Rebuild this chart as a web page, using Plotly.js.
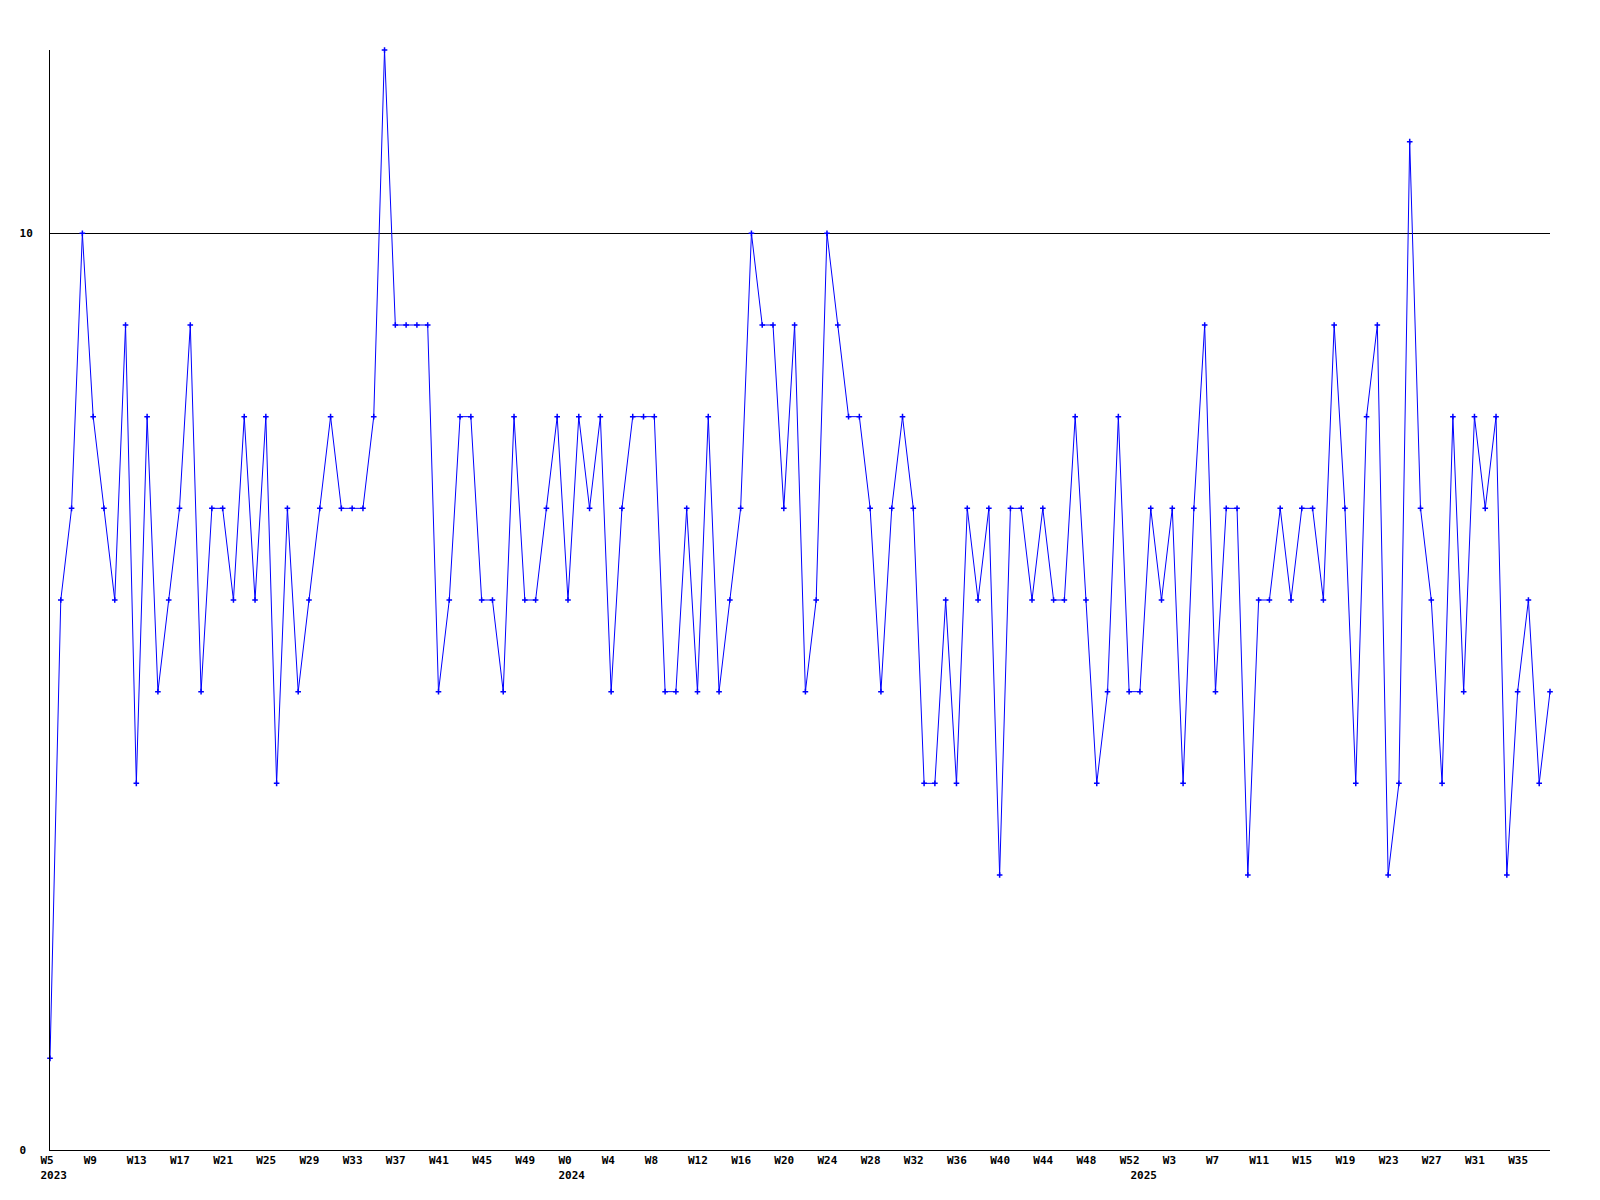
<!DOCTYPE html>
<html>
<head>
<meta charset="utf-8">
<script src="https://cdn.plot.ly/plotly-3.0.1.min.js"></script>
<style>html,body{margin:0;padding:0;background:#fff;}#chart{width:1600px;height:1200px;}</style>
</head>
<body>
<div id="chart"></div>
<script>
// Weekly values, 2023 W5 .. 2025 W38
const values = [
  1, 6, 7, 10, 8, 7, 6, 9, 4, 8, 5, 6, 7, 9, 5, 7, 7, 6, 8, 6, 8, 4, 7, 5,
  6, 7, 8, 7, 7, 7, 8, 12, 9, 9, 9, 9, 5, 6, 8, 8, 6, 6, 5, 8, 6, 6, 7,
  8, 6, 8, 7, 8, 5, 7, 8, 8, 8, 5, 5, 7, 5, 8, 5, 6, 7, 10, 9, 9, 7, 9,
  5, 6, 10, 9, 8, 8, 7, 5, 7, 8, 7, 4, 4, 6, 4, 7, 6, 7, 3, 7, 7, 6, 7,
  6, 6, 8, 6, 4, 5, 8, 5, 5, 7, 6, 7, 4, 7, 9, 5, 7, 7, 3, 6, 6, 7, 6,
  7, 7, 6, 9, 7, 4, 8, 9, 3, 4, 11, 7, 6, 4, 8, 5, 8, 7, 8, 3, 5, 6, 4, 5
];

// Week spans per year (first week, last week)
const years = [2023, 2024, 2025];
const firstWeek = [5, 0, 0];
const lastWeek = [52, 52, 38];

// Tick labels along the x axis
const tickWeeks = [
  "2023 W5","2023 W9","2023 W13","2023 W17","2023 W21","2023 W25","2023 W29","2023 W33","2023 W37","2023 W41","2023 W45","2023 W49",
  "2024 W0","2024 W4","2024 W8","2024 W12","2024 W16","2024 W20","2024 W24","2024 W28","2024 W32","2024 W36","2024 W40","2024 W44","2024 W48","2024 W52",
  "2025 W0",
  "2025 W3","2025 W7","2025 W11","2025 W15","2025 W19","2025 W23","2025 W27","2025 W31","2025 W35"
];
const tickTexts = [
  "W5<br>2023","W9","W13","W17","W21","W25","W29","W33","W37","W41","W45","W49",
  "W0<br>2024","W4","W8","W12","W16","W20","W24","W28","W32","W36","W40","W44","W48","W52",
  "<br>2025",
  "W3","W7","W11","W15","W19","W23","W27","W31","W35"
];

const yTickVals = [0, 10];
const yTickText = ["0\u00a0", "10"];

const weeks = [];
for (let i = 0; i < years.length; i++) {
  for (let w = firstWeek[i]; w <= lastWeek[i]; w++) weeks.push(years[i] + " W" + w);
}

const font = {family: "DejaVu Sans Mono, Liberation Mono, monospace", size: 11, color: "#000", weight: "bold"};

Plotly.newPlot("chart", [{
  type: "scatter",
  mode: "lines+markers",
  x: weeks,
  y: values,
  line: {color: "#0000ff", width: 1},
  marker: {symbol: "cross-thin", size: 4, color: "#0000ff", line: {color: "#0000ff", width: 1.5}},
  cliponaxis: false,
  hoverinfo: "x+y"
}], {
  width: 1600, height: 1200,
  margin: {l: 50, r: 50, t: 50, b: 50, pad: 0},
  paper_bgcolor: "#fff", plot_bgcolor: "#fff",
  showlegend: false,
  font: font,
  xaxis: {
    type: "category",
    range: [0, weeks.length - 1],
    tickmode: "array", tickvals: tickWeeks, ticktext: tickTexts,
    tickangle: 0,
    ticks: "", showgrid: false, zeroline: false,
    showline: true, linecolor: "#000", linewidth: 1,
    ticklabelposition: "outside right",
    ticklabelshift: -10,
    tickfont: font
  },
  yaxis: {
    range: [0, 12],
    tickmode: "array", tickvals: yTickVals, ticktext: yTickText,
    ticks: "", showgrid: true, gridcolor: "#000", gridwidth: 1,
    zeroline: false,
    showline: true, linecolor: "#000", linewidth: 1,
    ticklabelstandoff: 14,
    tickfont: font
  }
}, {staticPlot: true});
</script>
</body>
</html>
